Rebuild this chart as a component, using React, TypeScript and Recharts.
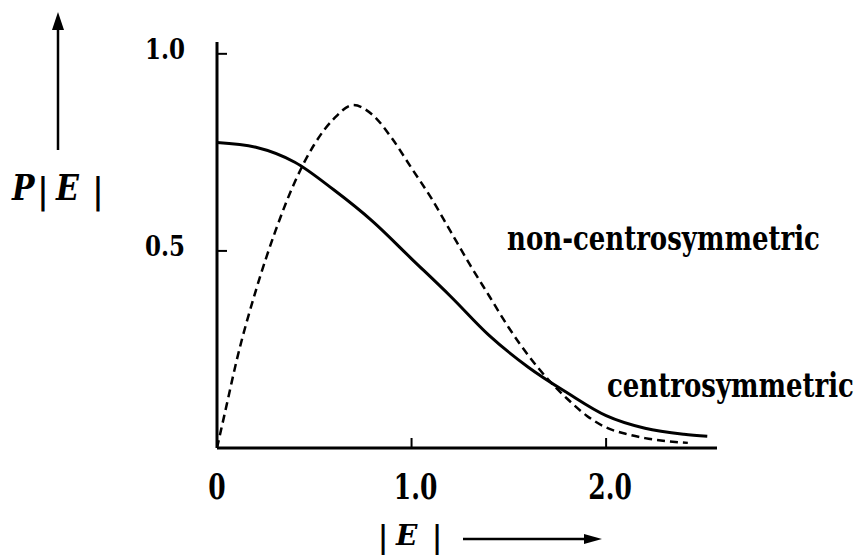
import React from 'react'
import { LineChart, Line, XAxis, YAxis, Customized } from 'recharts'

// centrosymmetric distribution (solid)
const E_CENTRIC = [0, 0.2, 0.4, 0.6, 0.8, 1.0, 1.2, 1.4, 1.6, 1.8, 2.0, 2.2, 2.4, 2.52]
const P_CENTRIC = [0.775, 0.763, 0.725, 0.655, 0.575, 0.48, 0.385, 0.285, 0.205, 0.14, 0.082, 0.05, 0.035, 0.03]

// non-centrosymmetric distribution (dashed)
const E_ACENTRIC = [0, 0.05, 0.1, 0.2, 0.3, 0.4, 0.5, 0.6, 0.7, 0.8, 0.9, 1.0, 1.1, 1.2, 1.3, 1.4, 1.5, 1.6, 1.7, 1.8, 1.9, 2.0, 2.1, 2.2, 2.42]
const P_ACENTRIC = [0, 0.11, 0.22, 0.4, 0.55, 0.675, 0.77, 0.835, 0.87, 0.845, 0.785, 0.71, 0.635, 0.55, 0.465, 0.385, 0.305, 0.235, 0.175, 0.125, 0.082, 0.052, 0.036, 0.025, 0.013]

const X_TICKS = [0, 1, 2]
const X_TICK_LABELS = ['0', '1.0', '2.0']
const Y_TICKS = [0.5, 1.0]
const Y_TICK_LABELS = ['0.5', '1.0']

const centricData = E_CENTRIC.map((e, i) => ({ e, p: P_CENTRIC[i] }))
const acentricData = E_ACENTRIC.map((e, i) => ({ e, p: P_ACENTRIC[i] }))

const FONT = "'DejaVu Serif', 'Liberation Serif', serif"

function Txt({ x, y, size = 26, sy = 1.3, anchor = 'start', italic = false, children }: any) {
  return (
    <text
      transform={`translate(${x},${y}) scale(1,${sy})`}
      textAnchor={anchor}
      fontFamily={FONT}
      fontWeight="bold"
      fontStyle={italic ? 'italic' : 'normal'}
      fontSize={size}
      fill="#000"
    >
      {children}
    </text>
  )
}

function XTick({ x, y, payload }: any) {
  const i = X_TICKS.indexOf(payload.value)
  return (
    <g>
      {payload.value > 0 && <line x1={x} x2={x} y1={y} y2={y - 10} stroke="#000" strokeWidth={2} />}
      <Txt x={x + (payload.value > 0 ? 4 : 0)} y={y + 51} size={25} sy={1.4} anchor="middle">
        {X_TICK_LABELS[i]}
      </Txt>
    </g>
  )
}

function YTick({ x, y, payload }: any) {
  const i = Y_TICKS.indexOf(payload.value)
  return (
    <g>
      <line x1={x} x2={x + 10} y1={y} y2={y} stroke="#000" strokeWidth={2} />
      <Txt x={x - 32} y={y + 5} size={23} sy={1.2} anchor="end">
        {Y_TICK_LABELS[i]}
      </Txt>
    </g>
  )
}

// axis titles with arrows, and the curve labels
function Annotations() {
  return (
    <g>
      <line x1={58} x2={58} y1={150} y2={26} stroke="#000" strokeWidth={2.5} />
      <polygon points="58,12 52,30 64,30" fill="#000" />
      <Txt x={12} y={200} size={30} sy={1.2} italic>P</Txt>
      <Txt x={43} y={203} size={30} sy={1.2} anchor="middle">|</Txt>
      <Txt x={56} y={200} size={30} sy={1.2} italic>E</Txt>
      <Txt x={98} y={203} size={30} sy={1.2} anchor="middle">|</Txt>

      <Txt x={383} y={548} size={28} sy={1.1} anchor="middle">|</Txt>
      <Txt x={396} y={545} size={28} sy={1} italic>E</Txt>
      <Txt x={437} y={548} size={28} sy={1.1} anchor="middle">|</Txt>
      <line x1={463} x2={588} y1={539} y2={539} stroke="#000" strokeWidth={2.5} />
      <polygon points="602,539 584,534 584,544" fill="#000" />

      <Txt x={507} y={250}>non-centrosymmetric</Txt>
      <Txt x={607} y={397}>centrosymmetric</Txt>
    </g>
  )
}

export default function App() {
  return (
    <div style={{ position: 'absolute', left: 0, top: 0, background: '#fff' }}>
      <LineChart width={863} height={555} margin={{ top: 42, right: 146, left: 216, bottom: 106 }}>
        <XAxis
          type="number"
          dataKey="e"
          domain={[0, 2.57]}
          ticks={X_TICKS}
          allowDataOverflow
          height={1}
          tickSize={0}
          tickMargin={0}
          tickLine={false}
          axisLine={{ stroke: '#000', strokeWidth: 3 }}
          tick={<XTick />}
          interval={0}
        />
        <YAxis
          type="number"
          domain={[0, 1.03]}
          ticks={Y_TICKS}
          allowDataOverflow
          width={1}
          tickSize={0}
          tickMargin={0}
          tickLine={false}
          axisLine={{ stroke: '#000', strokeWidth: 3 }}
          tick={<YTick />}
          interval={0}
        />
        <Line
          data={centricData}
          dataKey="p"
          type="monotone"
          stroke="#000"
          strokeWidth={3}
          dot={false}
          activeDot={false}
          isAnimationActive={false}
        />
        <Line
          data={acentricData}
          dataKey="p"
          type="monotone"
          stroke="#000"
          strokeWidth={2.5}
          strokeDasharray="8 5"
          dot={false}
          activeDot={false}
          isAnimationActive={false}
        />
        <Customized component={Annotations} />
      </LineChart>
    </div>
  )
}
